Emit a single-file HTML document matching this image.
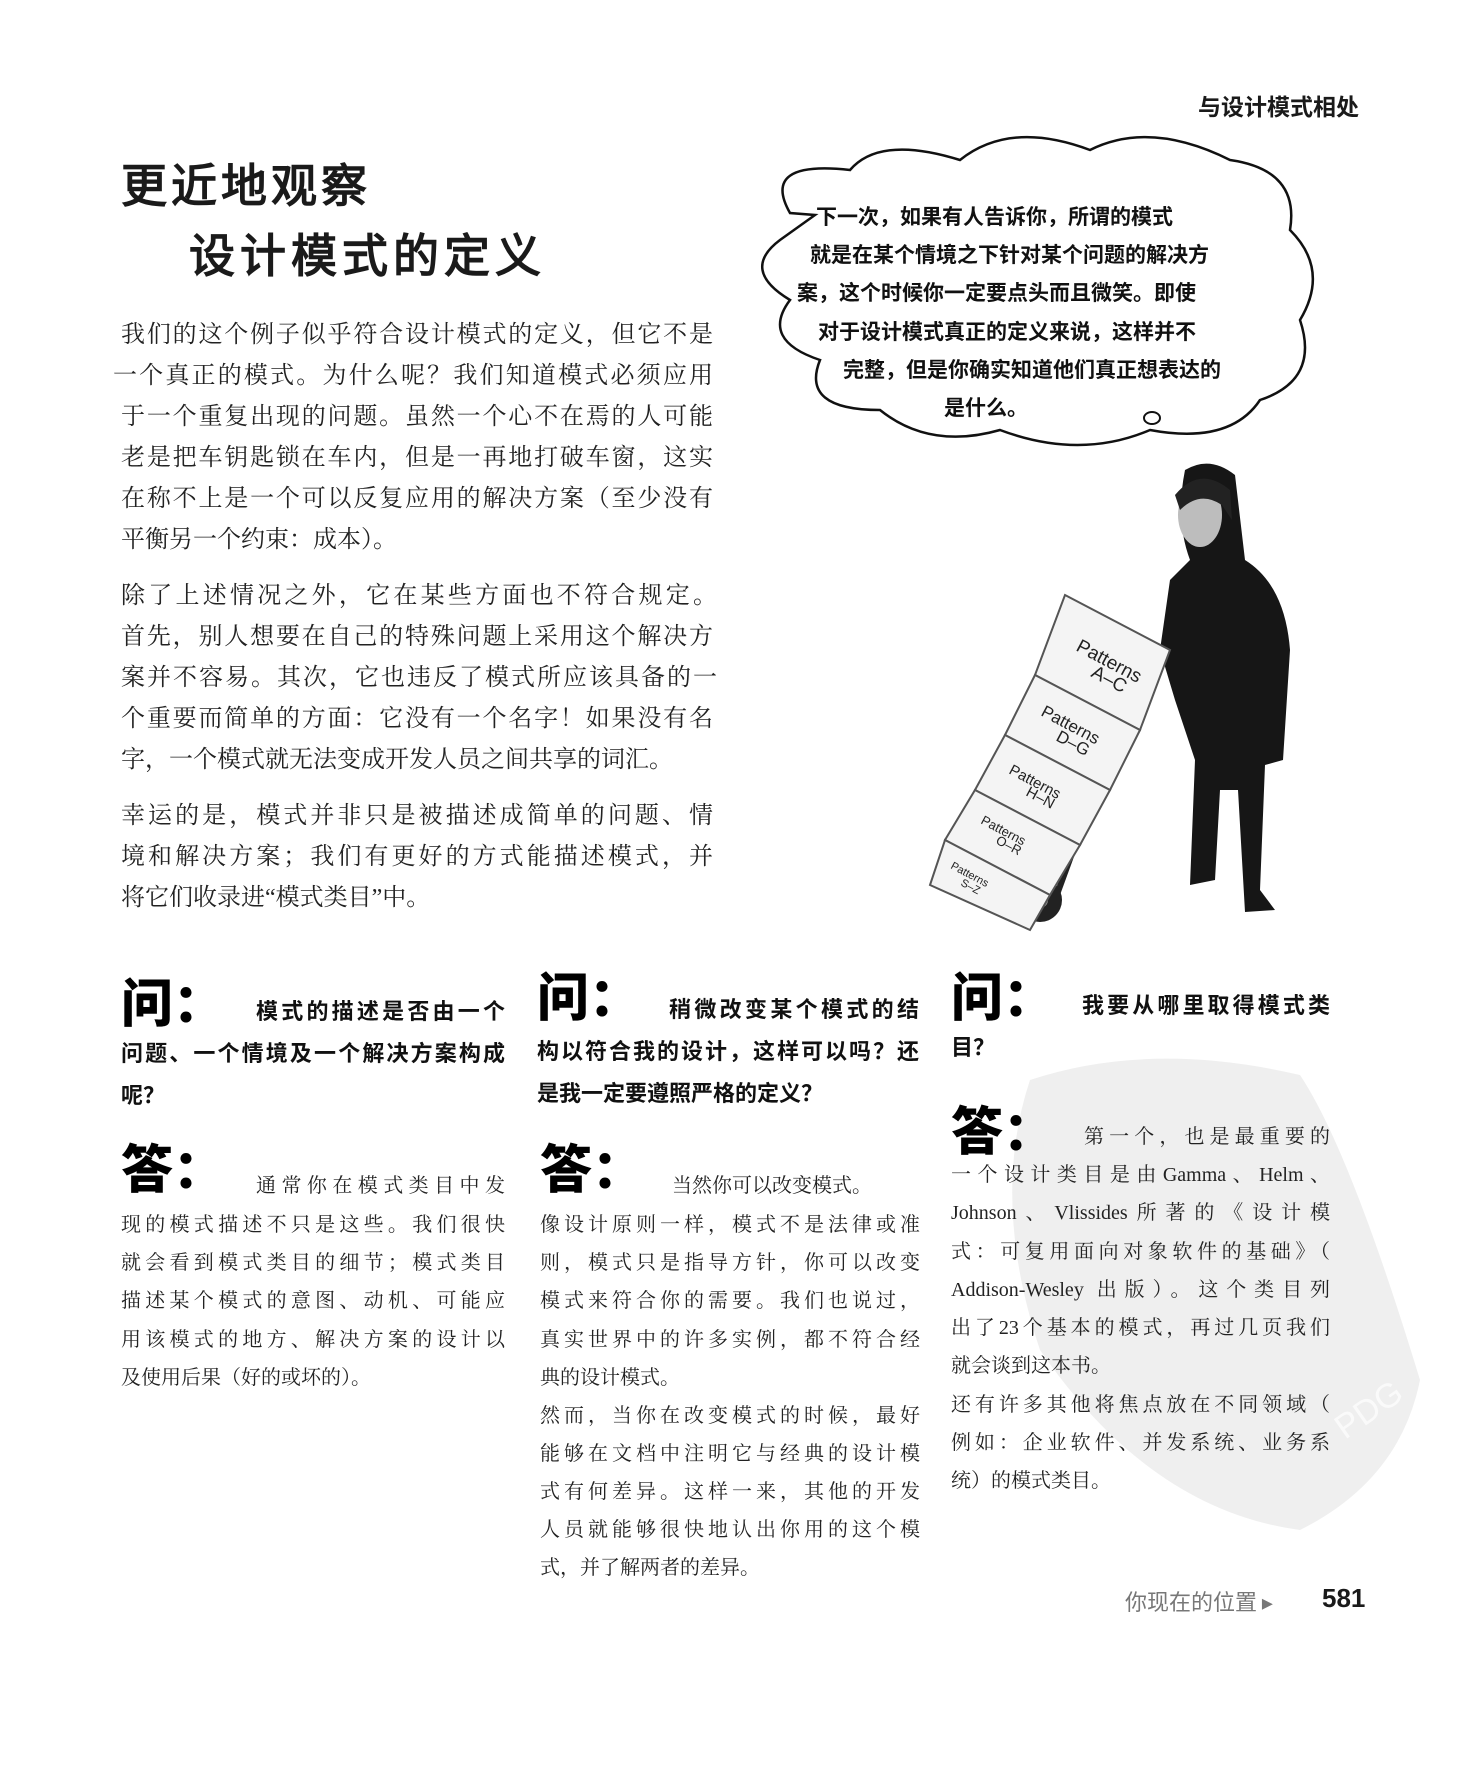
<!DOCTYPE html>
<html><head><meta charset="utf-8"><style>
body{margin:0;background:#fff;}
#page{position:relative;width:1474px;height:1775px;overflow:hidden;background:#fff;color:#1a1a1a;font-family:"Liberation Serif","Noto Serif CJK SC",serif;}
.a{position:absolute;white-space:nowrap;}
.ln{position:absolute;white-space:nowrap;text-align:justify;text-align-last:justify;}
.body{font-size:24px;font-family:"Liberation Serif","Noto Serif CJK SC",serif;color:#222;}
.q{font-size:22px;font-weight:bold;font-family:"Liberation Sans","Noto Sans CJK SC",sans-serif;color:#111;}
.ans{font-size:20px;font-family:"Liberation Serif","Noto Serif CJK SC",serif;color:#222;}
.big{font-size:52px;font-weight:900;font-family:"Noto Sans CJK SC",sans-serif;color:#000;}
.cloud{font-size:21px;font-weight:bold;font-family:"WenQuanYi Zen Hei","Noto Sans CJK SC",sans-serif;color:#111;}
</style></head><body>
<div id="page">
<svg class="a" style="left:0;top:0" width="1474" height="1775">
 <path d="M1030,1080 Q1150,1040 1300,1075 Q1350,1150 1420,1380 Q1400,1480 1300,1530 Q1150,1510 1040,1350 Q990,1200 1030,1080Z" fill="#efefef"/>
 <text x="1345" y="1440" font-family="Liberation Sans" font-size="34" fill="#fafafa" transform="rotate(-35 1345 1440)">PDG</text>
 <path d="M790,213 Q760,160 850,170 Q880,135 960,160 Q1010,120 1090,150 Q1150,120 1230,160 Q1300,170 1290,230 Q1330,270 1300,320 Q1320,380 1260,400 Q1230,445 1150,430 Q1080,460 1000,430 Q930,450 880,410 Q800,410 820,360 Q760,340 790,300 Q740,270 780,240 L815,215 Z" fill="#fff" stroke="#111" stroke-width="2.5"/>
 <ellipse cx="1152" cy="418" rx="8" ry="6" fill="#fff" stroke="#111" stroke-width="2"/>
 <g>
  <path d="M1185,470 Q1210,455 1235,475 L1245,560 Q1285,585 1290,650 L1283,760 L1265,765 L1260,890 L1275,910 L1245,912 L1238,790 L1220,790 L1215,880 L1190,885 L1195,760 L1175,700 L1160,650 L1170,580 L1190,560 Q1175,520 1185,470Z" fill="#161616"/>
  <ellipse cx="1200" cy="515" rx="22" ry="32" fill="#bdbdbd"/>
  <path d="M1175,495 Q1200,465 1230,490 L1232,520 L1222,505 Q1200,490 1180,510Z" fill="#222"/>
  <line x1="1150" y1="640" x2="1055" y2="900" stroke="#222" stroke-width="6"/>
  <circle cx="1040" cy="900" r="22" fill="#222"/><circle cx="1040" cy="900" r="8" fill="#999"/>
  <circle cx="1055" cy="830" r="20" fill="#333"/>
  <g fill="#f4f4f4" stroke="#555" stroke-width="2">
   <path d="M1065,595 L1170,650 L1140,730 L1035,675Z"/><path d="M1035,675 L1140,730 L1110,790 L1005,735Z"/>
   <path d="M1005,735 L1110,790 L1080,845 L975,790Z"/><path d="M975,790 L1080,845 L1050,895 L945,840Z"/>
   <path d="M945,840 L1050,895 L1030,930 L930,885Z"/>
  </g>
  <g font-family="Liberation Sans" fill="#222">
   <text x="1075" y="650" font-size="19" transform="rotate(28 1075 650)">Patterns</text><text x="1090" y="676" font-size="19" transform="rotate(28 1090 676)">A–C</text>
   <text x="1040" y="715" font-size="17" transform="rotate(28 1040 715)">Patterns</text><text x="1055" y="740" font-size="17" transform="rotate(28 1055 740)">D–G</text>
   <text x="1008" y="773" font-size="15" transform="rotate(28 1008 773)">Patterns</text><text x="1025" y="795" font-size="15" transform="rotate(28 1025 795)">H–N</text>
   <text x="980" y="823" font-size="13" transform="rotate(28 980 823)">Patterns</text><text x="995" y="843" font-size="13" transform="rotate(28 995 843)">O–R</text>
   <text x="950" y="868" font-size="11" transform="rotate(28 950 868)">Patterns</text><text x="960" y="885" font-size="11" transform="rotate(28 960 885)">S–Z</text>
  </g>
 </g>
</svg>

<div class="a" style="left:1198px;top:88px;font-size:23px;font-weight:bold;font-family:'Noto Sans CJK SC',sans-serif;">与设计模式相处</div>
<div class="a" style="left:121px;top:150px;font-size:46px;font-weight:900;letter-spacing:4px;font-family:'WenQuanYi Zen Hei',sans-serif;">更近地观察</div>
<div class="a" style="left:189px;top:220px;font-size:46px;font-weight:900;letter-spacing:5px;font-family:'WenQuanYi Zen Hei',sans-serif;">设计模式的定义</div>

<div class="cloud">
<div class="a" style="left:816px;top:201px">下一次，如果有人告诉你，所谓的模式</div>
<div class="a" style="left:810px;top:239px">就是在某个情境之下针对某个问题的解决方</div>
<div class="a" style="left:797px;top:277px">案，这个时候你一定要点头而且微笑。即使</div>
<div class="a" style="left:818px;top:316px">对于设计模式真正的定义来说，这样并不</div>
<div class="a" style="left:843px;top:354px">完整，但是你确实知道他们真正想表达的</div>
<div class="a" style="left:944px;top:392px">是什么。</div>
</div>

<div class="body">
<div class="ln" style="left:121px;top:314px;width:592px">我们的这个例子似乎符合设计模式的定义，但它不是</div>
<div class="ln" style="left:113px;top:355px;width:600px">一个真正的模式。为什么呢？我们知道模式必须应用</div>
<div class="ln" style="left:121px;top:396px;width:592px">于一个重复出现的问题。虽然一个心不在焉的人可能</div>
<div class="ln" style="left:121px;top:437px;width:592px">老是把车钥匙锁在车内，但是一再地打破车窗，这实</div>
<div class="ln" style="left:121px;top:478px;width:592px">在称不上是一个可以反复应用的解决方案（至少没有</div>
<div class="a" style="left:121px;top:519px">平衡另一个约束：成本）。</div>
</div>
<div class="body">
<div class="ln" style="left:121px;top:575px;width:596px">除了上述情况之外，它在某些方面也不符合规定。</div>
<div class="ln" style="left:121px;top:616px;width:592px">首先，别人想要在自己的特殊问题上采用这个解决方</div>
<div class="ln" style="left:121px;top:657px;width:596px">案并不容易。其次，它也违反了模式所应该具备的一</div>
<div class="ln" style="left:121px;top:698px;width:592px">个重要而简单的方面：它没有一个名字！如果没有名</div>
<div class="a" style="left:121px;top:739px">字，一个模式就无法变成开发人员之间共享的词汇。</div>
</div>
<div class="body">
<div class="ln" style="left:121px;top:795px;width:592px">幸运的是，模式并非只是被描述成简单的问题、情</div>
<div class="ln" style="left:121px;top:836px;width:592px">境和解决方案；我们有更好的方式能描述模式，并</div>
<div class="a" style="left:121px;top:877px">将它们收录进“模式类目”中。</div>
</div>

<div class="a big" style="left:121px;top:962px">问：</div>
<div class="q">
<div class="ln" style="left:256px;top:994px;width:249px">模式的描述是否由一个</div>
<div class="ln" style="left:121px;top:1036px;width:384px">问题、一个情境及一个解决方案构成</div>
<div class="a" style="left:121px;top:1078px">呢？</div>
</div>
<div class="a big" style="left:121px;top:1128px">答：</div>
<div class="ans">
<div class="ln" style="left:256px;top:1169px;width:249px">通常你在模式类目中发</div>
<div class="ln" style="left:121px;top:1208px;width:384px">现的模式描述不只是这些。我们很快</div>
<div class="ln" style="left:121px;top:1246px;width:384px">就会看到模式类目的细节；模式类目</div>
<div class="ln" style="left:121px;top:1284px;width:384px">描述某个模式的意图、动机、可能应</div>
<div class="ln" style="left:121px;top:1323px;width:384px">用该模式的地方、解决方案的设计以</div>
<div class="a" style="left:121px;top:1361px">及使用后果（好的或坏的）。</div>
</div>

<div class="a big" style="left:537px;top:956px">问：</div>
<div class="q">
<div class="ln" style="left:669px;top:992px;width:250px">稍微改变某个模式的结</div>
<div class="ln" style="left:537px;top:1034px;width:382px">构以符合我的设计，这样可以吗？还</div>
<div class="a" style="left:537px;top:1076px">是我一定要遵照严格的定义？</div>
</div>
<div class="a big" style="left:540px;top:1128px">答：</div>
<div class="ans">
<div class="a" style="left:672px;top:1169px">当然你可以改变模式。</div>
<div class="ln" style="left:540px;top:1208px;width:380px">像设计原则一样，模式不是法律或准</div>
<div class="ln" style="left:540px;top:1246px;width:380px">则，模式只是指导方针，你可以改变</div>
<div class="ln" style="left:540px;top:1284px;width:380px">模式来符合你的需要。我们也说过，</div>
<div class="ln" style="left:540px;top:1323px;width:380px">真实世界中的许多实例，都不符合经</div>
<div class="a" style="left:540px;top:1361px">典的设计模式。</div>
<div class="ln" style="left:540px;top:1399px;width:380px">然而，当你在改变模式的时候，最好</div>
<div class="ln" style="left:540px;top:1437px;width:380px">能够在文档中注明它与经典的设计模</div>
<div class="ln" style="left:540px;top:1475px;width:380px">式有何差异。这样一来，其他的开发</div>
<div class="ln" style="left:540px;top:1513px;width:380px">人员就能够很快地认出你用的这个模</div>
<div class="a" style="left:540px;top:1551px">式，并了解两者的差异。</div>
</div>

<div class="a big" style="left:951px;top:956px">问：</div>
<div class="q">
<div class="ln" style="left:1082px;top:988px;width:248px">我要从哪里取得模式类</div>
<div class="a" style="left:951px;top:1030px">目？</div>
</div>
<div class="a big" style="left:951px;top:1090px">答：</div>
<div class="ans">
<div class="ln" style="left:1084px;top:1120px;width:246px">第一个，也是最重要的</div>
<div class="ln" style="left:951px;top:1158px;width:379px">一个设计类目是由Gamma、Helm、</div>
<div class="ln" style="left:951px;top:1196px;width:379px">Johnson、Vlissides所著的《设计模</div>
<div class="ln" style="left:951px;top:1235px;width:379px">式：可复用面向对象软件的基础》（</div>
<div class="ln" style="left:951px;top:1273px;width:379px">Addison-Wesley 出版）。这个类目列</div>
<div class="ln" style="left:951px;top:1311px;width:379px">出了23个基本的模式，再过几页我们</div>
<div class="a" style="left:951px;top:1349px">就会谈到这本书。</div>
<div class="ln" style="left:951px;top:1388px;width:379px">还有许多其他将焦点放在不同领域（</div>
<div class="ln" style="left:951px;top:1426px;width:379px">例如：企业软件、并发系统、业务系</div>
<div class="a" style="left:951px;top:1464px">统）的模式类目。</div>
</div>

<div class="a" style="left:1125px;top:1585px;font-size:22px;color:#777;font-family:'Noto Sans CJK SC',sans-serif;">你现在的位置 ▸</div>
<div class="a" style="left:1322px;top:1583px;font-size:26px;font-weight:bold;font-family:'Liberation Sans',sans-serif;">581</div>
</div>
</body></html>
